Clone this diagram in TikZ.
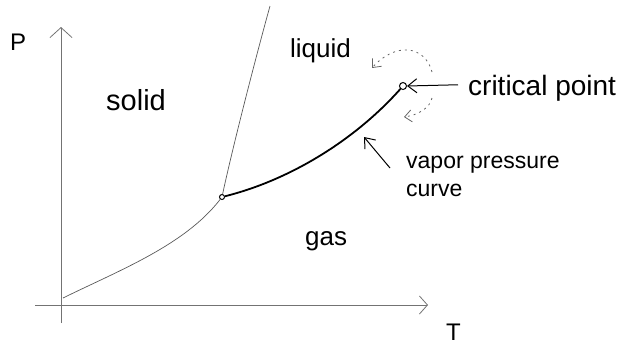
\documentclass[tikz,border=0pt]{standalone}
\usepackage{fontspec}
\setmainfont{Liberation Sans}
\usetikzlibrary{arrows.meta}
\begin{document}
\begin{tikzpicture}[x=1pt,y=-1pt,
  lbl/.style={font=\fontsize{24}{26}\selectfont, inner sep=0pt, anchor=base west},
  axisline/.style={draw=black!55, line width=0.8pt},
  thinline/.style={draw=black!65, line width=0.7pt},
  thickline/.style={draw=black, line width=1.8pt},
  pointer/.style={draw=black, line width=1pt, -{Straight Barb[length=9pt,width=14pt]}},
  dotptr/.style={draw=black!60, line width=0.8pt, dash pattern=on 2pt off 4pt, -{Straight Barb[length=7pt,width=12pt]}},
  dotpt/.style={circle, draw=black, line width=1pt, inner sep=0pt, minimum size=6pt}]
\useasboundingbox (0,0) rectangle (641,349);
% axes
\coordinate (ybot) at (61,323);
\coordinate (ytop) at (61,27);
\coordinate (xleft) at (35,305);
\coordinate (xright) at (428,305);
\draw[axisline, -{Straight Barb[length=10pt,width=22pt]}] (ybot) -- (ytop);
\draw[axisline, -{Straight Barb[length=8pt,width=18pt]}] (xleft) -- (xright);
\node[lbl] (P) at (10,50) {P};
\node[lbl] (T) at (446,340) {T};
% phase boundaries
\coordinate (orig) at (63,298);
\node[dotpt, minimum size=5pt] (tp) at (222,197) {};
\node[dotpt, minimum size=7pt] (cp) at (403,86) {};
\coordinate (mtop) at (270,6);
\draw[thinline] (orig) .. controls (120,270) and (185,245) .. (tp);
\draw[thinline] (tp) .. controls (232,150) and (255,60) .. (mtop);
\draw[thickline] (tp) .. controls (290,180) and (355,140) .. (cp);
% region labels
\node[lbl, font=\fontsize{29}{30}\selectfont] (solid) at (106,110) {solid};
\node[lbl, font=\fontsize{26}{28}\selectfont] (liquid) at (290,57) {liquid};
\node[lbl, font=\fontsize{26}{28}\selectfont] (gas) at (305,245) {gas};
% critical point label
\node[lbl, font=\fontsize{28}{30}\selectfont] (crit) at (468,95) {critical point};
\draw[pointer] (crit.west) ++(-10,-3) coordinate (cstart) -- (cp.east);
% dotted curved arrows
\coordinate (u1) at (432,72);
\coordinate (u2) at (372,68);
\draw[dotptr] (u1) .. controls (425,45) and (395,42) .. (u2);
\coordinate (d1) at (432,98);
\coordinate (d2) at (404,117);
\draw[dotptr] (d1) .. controls (430,108) and (418,115) .. (d2);
% vapor pressure curve label
\node[lbl, font=\fontsize{23}{24}\selectfont] (vp) at (406,168) {vapor pressure};
\node[lbl, font=\fontsize{23}{24}\selectfont] (cv) at (406,196) {curve};
\coordinate (vpa) at (390,168);
\coordinate (vpb) at (364,137);
\draw[pointer] (vpa) -- (vpb);
\end{tikzpicture}
\end{document}
